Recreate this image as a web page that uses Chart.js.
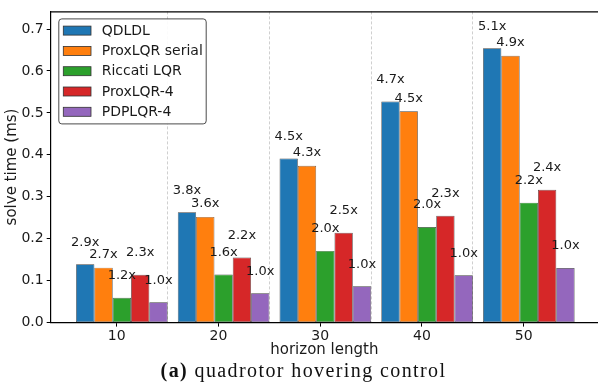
<!DOCTYPE html>
<html>
<head>
<meta charset="utf-8">
<script src="https://cdn.jsdelivr.net/npm/chart.js@4.4.1/dist/chart.umd.min.js"></script>
<style>
html,body{margin:0;padding:0;background:#fff;}
#wrap{position:relative;width:598px;height:385px;overflow:hidden;}
#c{display:block;}
#caption{position:absolute;left:303.5px;top:359px;transform:translateX(-50%);white-space:nowrap;
  font-family:"Liberation Serif","DejaVu Serif",serif;font-size:20px;letter-spacing:1.4px;color:#111;}
#caption b{font-weight:bold;}
</style>
</head>
<body>
<div id="wrap">
<canvas id="c" width="598" height="385"></canvas>
<div id="caption"><b>(a)</b> quadrotor hovering control</div>
</div>
<script>
// ---- data ----
const horizons = [10, 20, 30, 40, 50];
const seriesNames = ['QDLDL', 'ProxLQR serial', 'Riccati LQR', 'ProxLQR-4', 'PDPLQR-4'];
const qdldl      = [0.139, 0.263, 0.391, 0.527, 0.654];
const proxSerial = [0.131, 0.252, 0.374, 0.504, 0.636];
const riccati    = [0.059, 0.1145, 0.171, 0.228, 0.286];
const prox4      = [0.114, 0.155, 0.214, 0.2545, 0.3165];
const pdp4       = [0.0485, 0.070, 0.0866, 0.113, 0.130];
const qdldlSpeedup      = [2.9, 3.8, 4.5, 4.7, 5.1];
const proxSerialSpeedup = [2.7, 3.6, 4.3, 4.5, 4.9];
const riccatiSpeedup    = [1.2, 1.6, 2.0, 2.0, 2.2];
const prox4Speedup      = [2.3, 2.2, 2.5, 2.3, 2.4];
const pdp4Speedup       = [1.0, 1.0, 1.0, 1.0, 1.0];
const yTickValues = [0.0, 0.1, 0.2, 0.3, 0.4, 0.5, 0.6, 0.7];

// ---- styles ----
const FONT = '"DejaVu Sans", sans-serif';
const TEXT = '#1a1a1a';
const colors = ['#1f77b4', '#ff7f0e', '#2ca02c', '#d62728', '#9467bd'];
const labelGaps = [18.7, 9.5, 18.7, 18.7, 18.7];

const seriesValues = [qdldl, proxSerial, riccati, prox4, pdp4];
const seriesSpeedups = [qdldlSpeedup, proxSerialSpeedup, riccatiSpeedup, prox4Speedup, pdp4Speedup];

const datasets = seriesNames.map((name, k) => ({
  label: name,
  data: horizons.map((h, i) => ({ x: h, y: seriesValues[k][i] })),
  backgroundColor: colors[k],
  borderColor: 'rgba(0,0,0,0.75)',
  borderWidth: 0.7,
  borderSkipped: false,
  categoryPercentage: 0.9,
  barPercentage: 1.0
}));

// tick positions on the label axis: group ticks plus dividers between groups
const dividerValues = horizons.slice(0, -1).map((h, i) => (h + horizons[i + 1]) / 2);
const xtTickValues = horizons.concat(dividerValues).sort((a, b) => a - b);

const frameAndLegend = {
  id: 'frameAndLegend',
  afterDatasetsDraw(chart) {
    const { ctx } = chart;
    ctx.save();
    ctx.font = '13px ' + FONT;
    ctx.fillStyle = TEXT;
    ctx.textAlign = 'center';
    ctx.textBaseline = 'alphabetic';
    chart.data.datasets.forEach((ds, di) => {
      const meta = chart.getDatasetMeta(di);
      meta.data.forEach((bar, i) => {
        ctx.fillText(seriesSpeedups[di][i].toFixed(1) + 'x', bar.x, bar.y - labelGaps[di]);
      });
    });
    ctx.restore();
  },
  afterDraw(chart) {
    const { ctx, chartArea } = chart;
    ctx.save();
    // top spine
    ctx.strokeStyle = '#000';
    ctx.lineWidth = 1.2;
    ctx.beginPath();
    ctx.moveTo(chartArea.left, chartArea.top + 0.5);
    ctx.lineTo(chartArea.right, chartArea.top + 0.5);
    ctx.stroke();
    // legend
    const x0 = chartArea.left + 7.6, y0 = chartArea.top + 7;
    const w = 147.4, h = 105, r = 3;
    ctx.beginPath();
    ctx.roundRect(x0 + 0.5, y0 + 0.5, w, h, r);
    ctx.fillStyle = 'rgba(255,255,255,0.9)';
    ctx.fill();
    ctx.strokeStyle = '#4a4a4a';
    ctx.lineWidth = 1;
    ctx.stroke();
    ctx.font = '14px ' + FONT;
    ctx.textAlign = 'left';
    ctx.textBaseline = 'middle';
    chart.data.datasets.forEach((ds, i) => {
      const cy = y0 + 12.2 + i * 20.3;
      ctx.fillStyle = ds.backgroundColor;
      ctx.fillRect(x0 + 5, cy - 4.5, 27.7, 9);
      ctx.strokeStyle = '#333';
      ctx.lineWidth = 0.8;
      ctx.strokeRect(x0 + 5, cy - 4.5, 27.7, 9);
      ctx.fillStyle = TEXT;
      ctx.fillText(ds.label, x0 + 43.4, cy + 0.5);
    });
    ctx.restore();
  }
};

new Chart(document.getElementById('c'), {
  type: 'bar',
  data: { datasets },
  options: {
    responsive: false,
    animation: false,
    devicePixelRatio: 1,
    layout: { padding: { top: 3, right: 0, bottom: 0, left: 0 } },
    plugins: { legend: { display: false }, tooltip: { enabled: false } },
    scales: {
      x: {
        type: 'linear',
        min: 3.007,
        max: 56.80,
        offset: false,
        afterBuildTicks(axis) { axis.ticks = horizons.map(v => ({ value: v })); },
        grid: { offset: false },
        display: false
      },
      xt: {
        type: 'linear',
        position: 'bottom',
        min: 3.514,
        max: 57.30,
        offset: false,
        afterBuildTicks(axis) { axis.ticks = xtTickValues.map(v => ({ value: v })); },
        afterFit(axis) { axis.height = 62.4; },
        ticks: {
          autoSkip: false,
          maxRotation: 0,
          padding: 1,
          color: TEXT,
          font: { family: FONT, size: 14 },
          callback: (v) => horizons.includes(v) ? String(v) : ''
        },
        grid: {
          offset: false,
          drawOnChartArea: true,
          drawTicks: true,
          tickLength: 4,
          lineWidth: 1,
          color: (c) => (c.tick && dividerValues.includes(c.tick.value)) ? '#cfcfcf' : 'rgba(0,0,0,0)',
          tickColor: (c) => (c.tick && horizons.includes(c.tick.value)) ? '#000' : 'rgba(0,0,0,0)',
          tickWidth: 1
        },
        border: { display: true, color: '#000', width: 1.2, dash: [3, 2] },
        title: {
          display: true,
          text: 'horizon length',
          color: TEXT,
          font: { family: FONT, size: 15 },
          padding: { top: 0, bottom: 26 }
        }
      },
      y: {
        type: 'linear',
        min: 0,
        max: 0.742,
        afterBuildTicks(axis) { axis.ticks = yTickValues.map(v => ({ value: v })); },
        afterFit(axis) { axis.width = 50.7; },
        ticks: {
          padding: 3,
          color: TEXT,
          font: { family: FONT, size: 14 },
          callback: (v) => Number(v).toFixed(1)
        },
        grid: {
          drawOnChartArea: false,
          drawTicks: true,
          tickLength: 4,
          tickColor: '#000'
        },
        border: { display: true, color: '#000', width: 1.2 },
        title: {
          display: true,
          text: 'solve time (ms)',
          color: TEXT,
          font: { family: FONT, size: 15 },
          padding: { top: 3, bottom: 0 }
        }
      }
    }
  },
  plugins: [frameAndLegend]
});
</script>
</body>
</html>
